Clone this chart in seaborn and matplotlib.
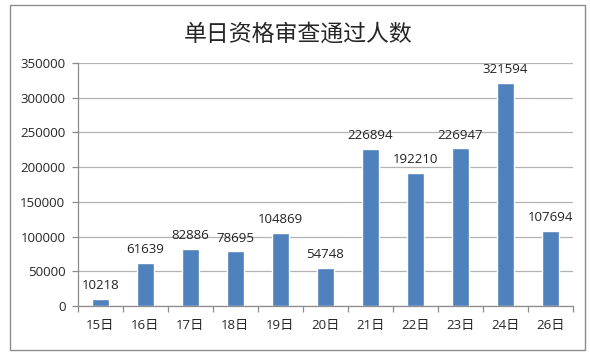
import pandas as pd
import seaborn as sns
import matplotlib.pyplot as plt
import numpy as np
from matplotlib.patches import Rectangle

# data
days = ['15日', '16日', '17日', '18日', '19日', '20日', '21日', '22日', '23日', '24日', '26日']
passed = [10218, 61639, 82886, 78695, 104869, 54748, 226894, 192210, 226947, 321594, 107694]
yticks = np.arange(0, 350001, 50000)

df = pd.DataFrame({'day': days, 'passed': passed})

sns.set_style('white')
plt.rcParams['font.family'] = ['Open Sans', 'Noto Sans CJK SC', 'DejaVu Sans']

fig = plt.figure(figsize=(5.9, 3.56), dpi=100)
ax = fig.add_axes([0.132, 0.140, 0.839, 0.683])

sns.barplot(data=df, x='day', y='passed', color='#4F81BD', saturation=1, width=0.39, ax=ax)
ax.bar_label(ax.containers[0], fmt='%d', padding=5, fontsize=9.5, color='#222222')

ax.set_ylim(0, 350000)
ax.set_yticks(yticks)
ax.set_yticklabels([str(v) for v in yticks])
ax.set_xlim(-0.5, len(days) - 0.5)
ax.set_xlabel('')
ax.set_ylabel('')
ax.grid(axis='y', color='#b3b3b3', linewidth=0.9)
ax.set_axisbelow(True)

for side in ['top', 'right']:
    ax.spines[side].set_visible(False)
for side in ['left', 'bottom']:
    ax.spines[side].set_color('#8c8c8c')
    ax.spines[side].set_linewidth(0.9)

# x ticks between categories, labels at centres
ax.set_xticks(np.arange(-0.5, len(days), 1), minor=True)
ax.tick_params(axis='x', which='major', length=0, pad=9, labelsize=9.5)
ax.tick_params(axis='x', which='minor', length=4, color='#8c8c8c', width=0.9, bottom=True)
ax.tick_params(axis='y', length=4, color='#8c8c8c', width=0.9, left=True, labelsize=9.5, pad=5)

fig.text(0.505, 0.905, '单日资格审查通过人数', ha='center', va='center', fontsize=16.5,
         family=['Noto Sans CJK SC'])

# chart frame
fig.patches.append(Rectangle((0.017, 0.017), 0.975, 0.968, transform=fig.transFigure,
                             fill=False, edgecolor='#8c8c8c', linewidth=1.0))

fig.savefig('out.png', dpi=100)
